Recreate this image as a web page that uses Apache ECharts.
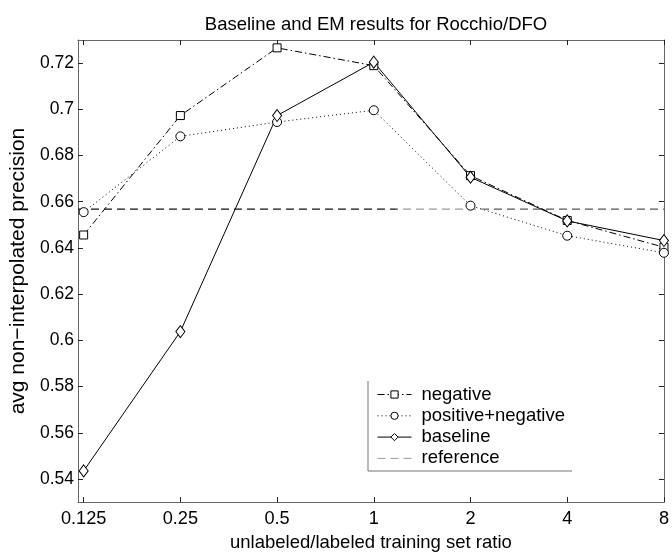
<!DOCTYPE html>
<html><head><meta charset="utf-8">
<script src="https://cdn.jsdelivr.net/npm/echarts@6/dist/echarts.min.js"></script>
<style>html,body{margin:0;padding:0;background:#fff}#c{width:672px;height:557px}</style>
</head><body><div id="c"></div>
<script>
const ratios = [0.125, 0.25, 0.5, 1, 2, 4, 8];
const tickLabels = ['0.125', '0.25', '0.5', '1', '2', '4', '8'];
const negative = [0.6456, 0.6973, 0.7266, 0.7189, 0.6713, 0.6519, 0.6403];
const posNeg = [0.6555, 0.6883, 0.6945, 0.6996, 0.6583, 0.6453, 0.6379];
const baseline = [0.5435, 0.6038, 0.6973, 0.7204, 0.6706, 0.6517, 0.6432];
const referenceValue = 0.6568;
const yTicks = [0.54, 0.56, 0.58, 0.6, 0.62, 0.64, 0.66, 0.68, 0.7, 0.72];

const lx = ratios.map(r => Math.log2(r));
const xTickVals = lx.slice();
const pts = arr => arr.map((v, i) => [lx[i], v]);
const font = 'Liberation Sans, Arial, sans-serif';
const axisColor = '#666';

const chart = echarts.init(document.getElementById('c'), null, {renderer: 'canvas'});
const xMin = Math.log2(0.12), xMax = 3;
const commonX = {
  type: 'value', min: xMin, max: xMax,
  axisLine: {show: true, onZero: false, lineStyle: {color: axisColor, width: 1}},
  axisTick: {show: true, inside: true, length: 5, customValues: xTickVals, lineStyle: {color: '#222'}},
  splitLine: {show: false}
};
const commonY = {
  type: 'value', min: 0.53, max: 0.73,
  axisLine: {show: true, onZero: false, lineStyle: {color: axisColor, width: 1}},
  axisTick: {show: true, inside: true, length: 5, customValues: yTicks, lineStyle: {color: '#222'}},
  splitLine: {show: false}
};
chart.setOption({
  animation: false,
  backgroundColor: '#fff',
  title: {text: 'Baseline and EM results for Rocchio/DFO', left: 371, textAlign: 'center', top: 11,
    textStyle: {fontFamily: font, fontSize: 18.5, lineHeight: 18, fontWeight: 'normal', color: '#000'}},
  grid: {left: 70, right: 5, top: 40, bottom: 45},
  xAxis: [
    Object.assign({}, commonX, {
      position: 'bottom',
      name: 'unlabeled/labeled training set ratio', nameLocation: 'middle', nameGap: 28,
      nameTextStyle: {fontFamily: font, fontSize: 18.5, lineHeight: 19, color: '#000'},
      axisLabel: {show: true, customValues: xTickVals, margin: 8, fontFamily: font, fontSize: 18.2, color: '#000',
        formatter: v => { const i = xTickVals.findIndex(t => Math.abs(t - v) < 1e-6); return i >= 0 ? tickLabels[i] : ''; }}
    }),
    Object.assign({}, commonX, {position: 'top', axisLabel: {show: false}})
  ],
  yAxis: [
    Object.assign({}, commonY, {
      position: 'left',
      name: 'avg non\u2212interpolated precision', nameLocation: 'middle', nameGap: 37,
      nameTextStyle: {fontFamily: font, fontSize: 21, lineHeight: 21, color: '#000'},
      axisLabel: {show: true, customValues: yTicks, margin: 4, fontFamily: font, fontSize: 17.5, color: '#000',
        formatter: v => String(parseFloat(v.toFixed(2)))}
    }),
    Object.assign({}, commonY, {position: 'right', axisLabel: {show: false}})
  ],
  legend: {
    orient: 'vertical', left: 377, top: 385, itemGap: 2.3, itemWidth: 34, itemHeight: 9,
    padding: 0,
    textStyle: {fontFamily: font, fontSize: 18.5, lineHeight: 19, color: '#000', padding: [0, 0, 0, 5]},
    lineStyle: {width: 1},
    itemStyle: {borderWidth: 1},
    data: ['negative', 'positive+negative', 'baseline',
      {name: 'reference', itemStyle: {opacity: 0}, lineStyle: {color: '#999', width: 1}}]
  },
  graphic: [
    {type: 'polyline', shape: {points: [[368, 381], [368, 471], [572, 471]]},
      style: {stroke: '#777', lineWidth: 1, fill: null}, silent: true}
  ],
  series: [
    {name: 'negative', type: 'line', data: pts(negative), symbol: 'rect', symbolSize: 8,
      lineStyle: {color: '#000', width: 1, type: [7, 3, 1.5, 3]},
      itemStyle: {color: '#fff', borderColor: '#000', borderWidth: 1}},
    {name: 'positive+negative', type: 'line', data: pts(posNeg), symbol: 'circle', symbolSize: 9,
      lineStyle: {color: '#000', width: 1, type: [1, 3]},
      itemStyle: {color: '#fff', borderColor: '#000', borderWidth: 1}},
    {name: 'baseline', type: 'line', data: pts(baseline), symbol: 'diamond', symbolSize: [9, 12],
      lineStyle: {color: '#000', width: 1, type: 'solid'},
      itemStyle: {color: '#fff', borderColor: '#000', borderWidth: 1}},
    {name: 'reference', type: 'line', data: [[xMin, referenceValue], [xMax, referenceValue]], symbol: 'none',
      lineStyle: {width: 1.3, type: [8, 5], color: {type: 'linear', x: 0, y: 0, x2: 1, y2: 0,
        colorStops: [{offset: 0, color: '#111'}, {offset: 0.54, color: '#111'}, {offset: 0.55, color: '#999'},
          {offset: 0.68, color: '#999'}, {offset: 0.7, color: '#555'}, {offset: 1, color: '#555'}]}},
      itemStyle: {color: '#999'}}
  ]
});
</script></body></html>
